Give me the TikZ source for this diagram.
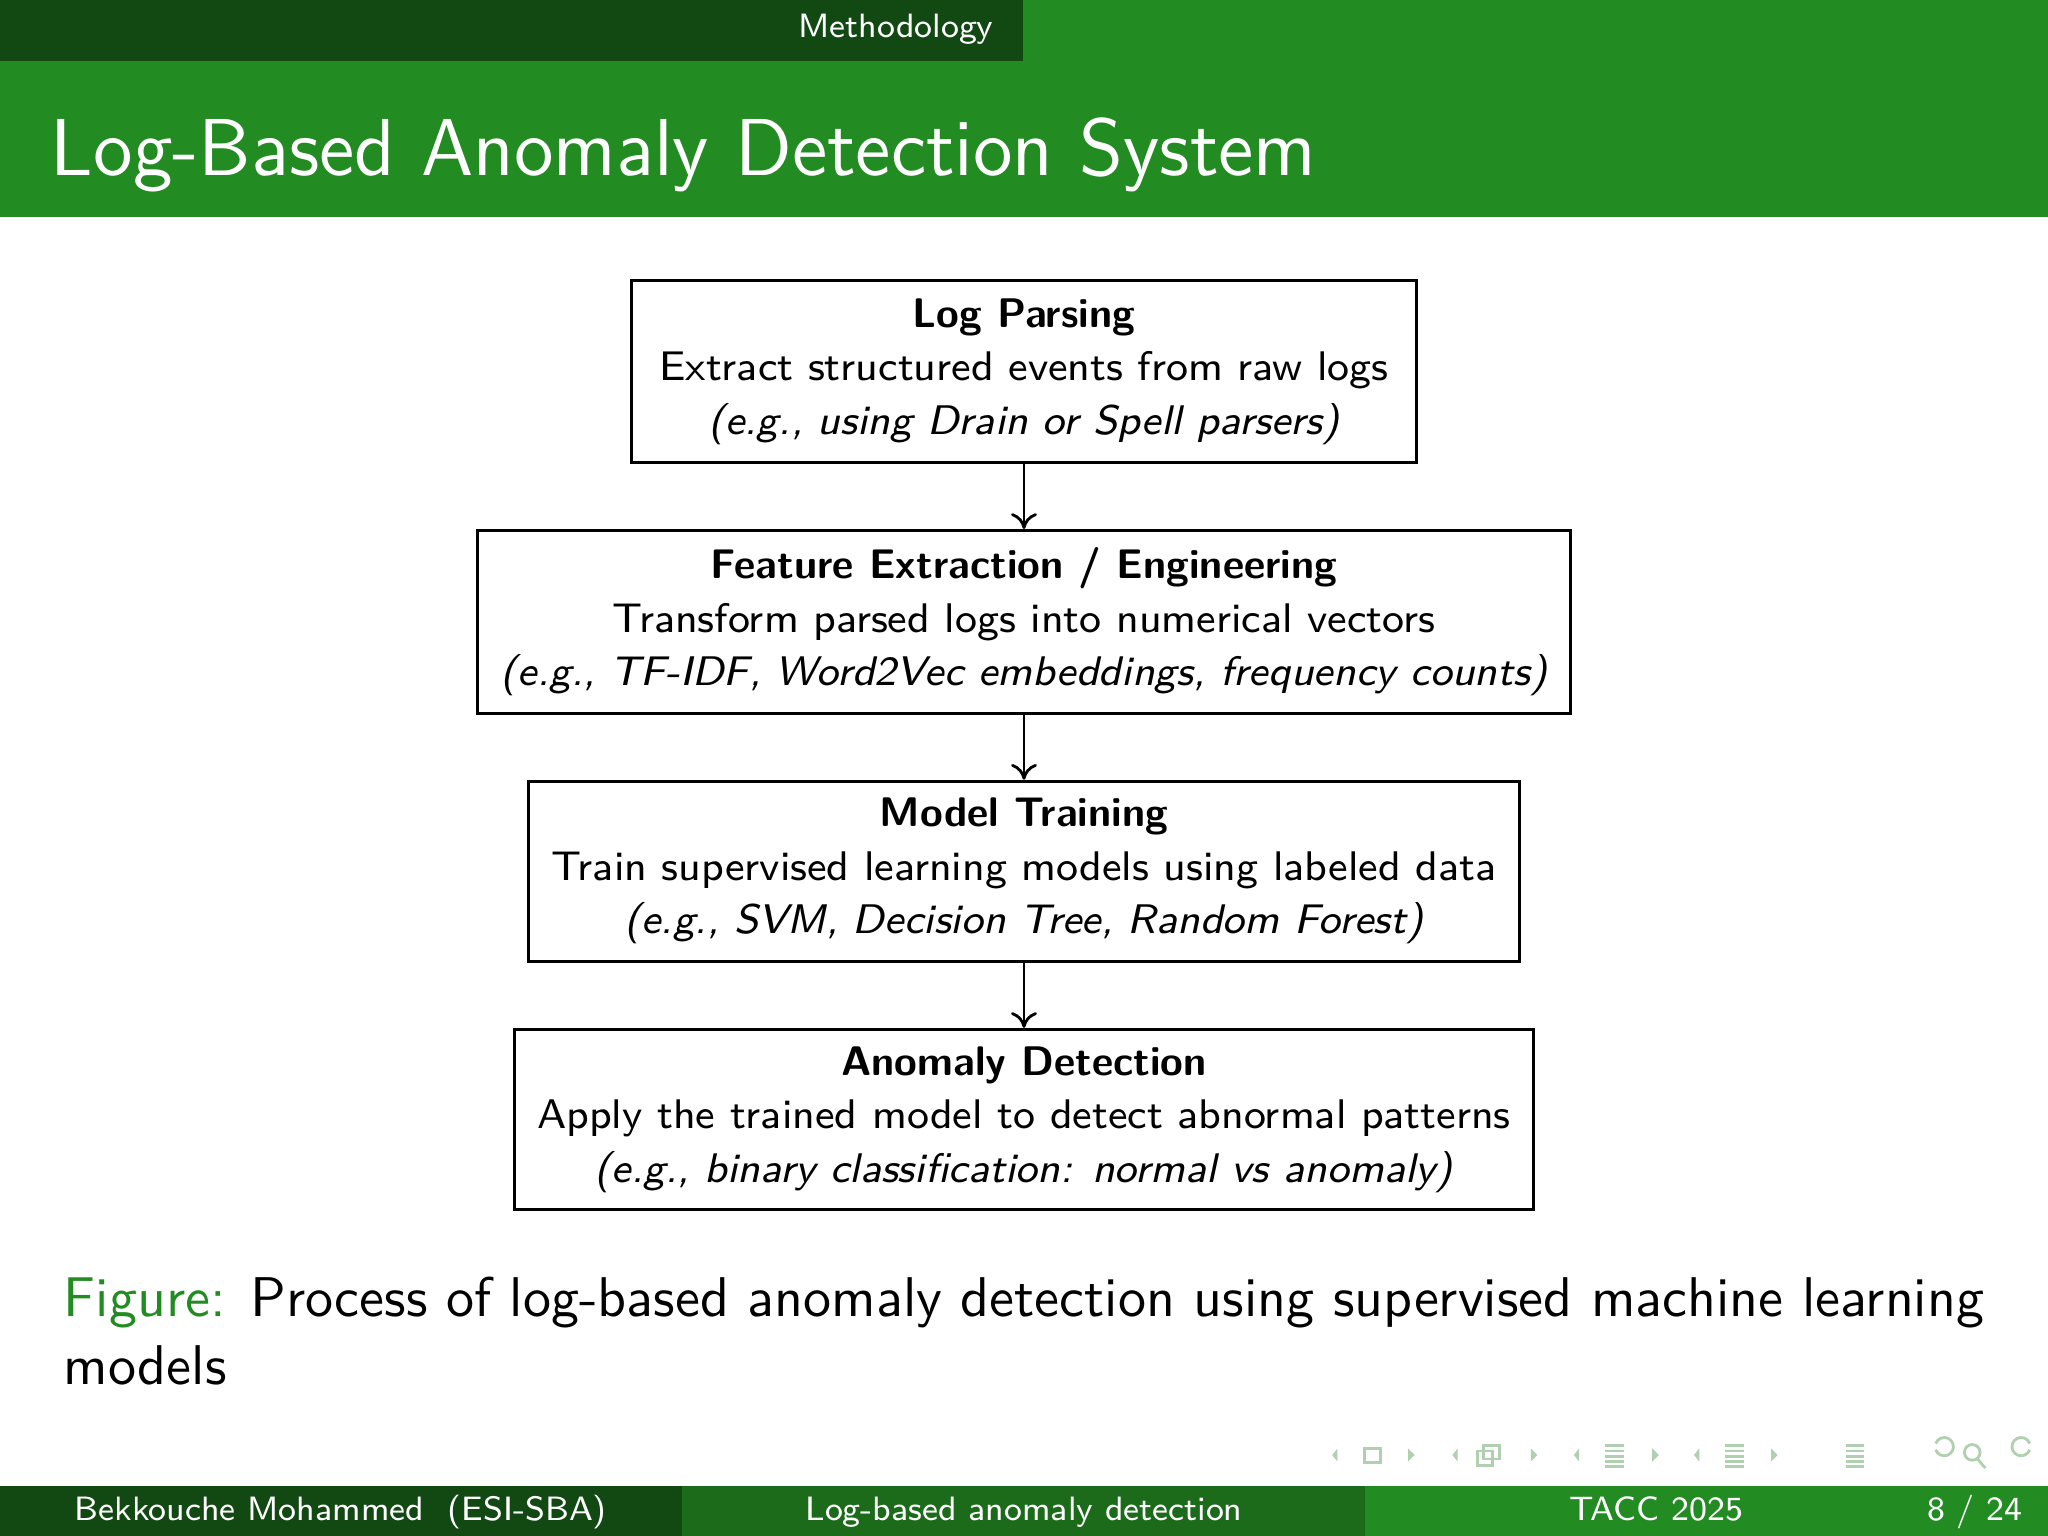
\documentclass[tikz,border=0pt]{standalone}
\usetikzlibrary{arrows.meta}
\renewcommand{\familydefault}{\sfdefault}
\definecolor{gA}{HTML}{228B22}
\definecolor{gB}{HTML}{1B6B1B}
\definecolor{gC}{HTML}{124812}
\definecolor{navc}{HTML}{B0D0B0}
\tikzset{
  stepbox/.style={draw, line width=0.5pt, align=center, font=\fontsize{7.35}{9.5}\selectfont, inner sep=0pt, anchor=north},
  flow/.style={-{To[length=2.8pt,width=4.6pt]}, line width=0.5pt},
  foot/.style={text=white, font=\fontsize{6.0}{7}\selectfont, anchor=base},
}
\begin{document}
\begin{tikzpicture}[x=0.2321pt,y=-0.2321pt]
\useasboundingbox (0,0) rectangle (1568,1176);
% header
\fill[gA] (0,0) rectangle (1568,166);
\fill[gC] (0,0) rectangle (783,47);
\node[foot] (hdr) at (686,29) {Methodology};
\node[text=white, font=\fontsize{14.35}{16}\selectfont, anchor=base west, inner sep=0pt] (title) at (38,134) {Log-Based Anomaly Detection System};
% boxes
\node[stepbox, minimum width=601*0.2321pt, minimum height=139*0.2321pt] (b1) at (784,214)
 {\textbf{Log Parsing}\\Extract structured events from raw logs\\\textit{(e.g., using Drain or Spell parsers)}};
\node[stepbox, minimum width=837*0.2321pt, minimum height=140*0.2321pt] (b2) at (784,405)
 {\textbf{Feature Extraction / Engineering}\\Transform parsed logs into numerical vectors\\\textit{(e.g., TF-IDF, Word2Vec embeddings, frequency counts)}};
\node[stepbox, minimum width=759*0.2321pt, minimum height=138*0.2321pt] (b3) at (784,597)
 {\textbf{Model Training}\\Train supervised learning models using labeled data\\\textit{(e.g., SVM, Decision Tree, Random Forest)}};
\node[stepbox, minimum width=780*0.2321pt, minimum height=138*0.2321pt] (b4) at (784,787)
 {\textbf{Anomaly Detection}\\Apply the trained model to detect abnormal patterns\\\textit{(e.g., binary classification: normal vs anomaly)}};
\draw[flow] (b1.south) -- (b2.north);
\draw[flow] (b2.south) -- (b3.north);
\draw[flow] (b3.south) -- (b4.north);
% caption
\node[anchor=base west, inner sep=0pt, font=\fontsize{9.95}{12}\selectfont, align=left] (cap) at (48,1008)
 {\textcolor{gA}{Figure:} Process of log-based anomaly detection using supervised machine learning};
\node[anchor=base west, inner sep=0pt, font=\fontsize{9.95}{12}\selectfont] (cap2) at (48,1060) {models};
% nav symbols
\begin{scope}[navc, line width=0.5pt]
\fill (1024,1109) -- (1020,1114) -- (1024,1119) -- cycle;
\draw (1045,1109) rectangle (1057,1120);
\fill (1078,1109) -- (1083,1114) -- (1078,1119) -- cycle;
\fill (1116,1109) -- (1112,1114) -- (1116,1119) -- cycle;
\draw (1131,1111) rectangle (1143,1122); \draw (1136,1107) rectangle (1148,1117);
\fill (1172,1109) -- (1177,1114) -- (1172,1119) -- cycle;
\fill (1209,1109) -- (1205,1114) -- (1209,1119) -- cycle;
\foreach \yy in {1107,1111,1115,1119,1123} \draw (1229,\yy) -- (1243,\yy);
\fill (1265,1109) -- (1270,1114) -- (1265,1119) -- cycle;
\fill (1301,1109) -- (1297,1114) -- (1301,1119) -- cycle;
\foreach \yy in {1107,1111,1115,1119,1123} \draw (1321,\yy) -- (1335,\yy);
\fill (1356,1109) -- (1361,1114) -- (1356,1119) -- cycle;
\foreach \yy in {1107,1111,1115,1119,1123} \draw (1413,\yy) -- (1427,\yy);
\draw (1482,1110) arc (160:-160:7);
\draw (1510,1112) circle (6); \draw (1514,1117) -- (1520,1124);
\draw (1554,1110) arc (20:340:7);
\end{scope}
% footer
\fill[gC] (0,1138) rectangle (522,1176);
\fill[gB] (522,1138) rectangle (1045,1176);
\fill[gA] (1045,1138) rectangle (1568,1176);
\node[foot] (f1) at (261,1164) {Bekkouche Mohammed\ \ (ESI-SBA)};
\node[foot] (f2) at (784,1164) {Log-based anomaly detection};
\node[foot] (f3) at (1268,1164) {TACC 2025};
\node[foot] (f4) at (1512,1164) {8 / 24};
\end{tikzpicture}
\end{document}
